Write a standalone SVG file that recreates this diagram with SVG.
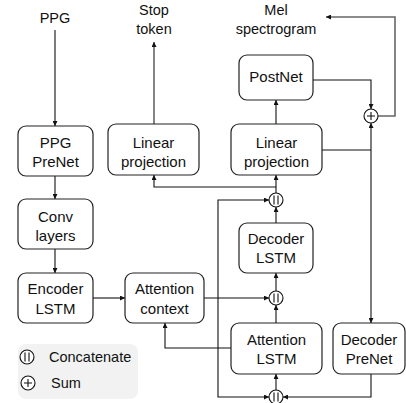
<svg xmlns="http://www.w3.org/2000/svg" width="406" height="403" viewBox="0 0 406 403">
<defs>
<style>
.box{fill:#fff;stroke:#222;stroke-width:1.2}
.t{font-family:"Liberation Sans",Arial,sans-serif;font-size:14.5px;fill:#111;text-anchor:middle}
.b{font-size:15px}
.tl{font-family:"Liberation Sans",Arial,sans-serif;font-size:14.5px;fill:#111}
.c{fill:none;stroke:#111;stroke-width:1.1}
.g{fill:none;stroke:#666;stroke-width:1.6}
.sym{fill:#fff;stroke:#111;stroke-width:1.1}
</style>
<marker id="a" viewBox="0 0 6 6" refX="6" refY="3" markerWidth="5" markerHeight="5" orient="auto" markerUnits="userSpaceOnUse">
<path d="M0,0 L6,3 L0,6 z" fill="#111"/>
</marker>
<g id="cat"><circle r="7" class="sym"/><path d="M-2,-4.5 V4.5 M2,-4.5 V4.5" stroke="#111" stroke-width="1.1"/></g>
<g id="sum"><circle r="7" class="sym"/><path d="M-4,0 H4 M0,-4 V4" stroke="#111" stroke-width="1.1"/></g>
</defs>
<rect width="406" height="403" fill="#fff"/>

<g id="connectors">
<path class="c" d="M55,30 V126" marker-end="url(#a)"/>
<path class="c" d="M55,176 V199" marker-end="url(#a)"/>
<path class="c" d="M55,249 V273" marker-end="url(#a)"/>
<path class="c" d="M93,298 H125" marker-end="url(#a)"/>
<path class="c" d="M204,298 H269" marker-end="url(#a)"/>
<path class="c" d="M218,298 V200 H269" marker-end="url(#a)"/>
<path class="c" d="M218,298 V397 H269" marker-end="url(#a)"/>
<path class="c" d="M231,348 H165 V323" marker-end="url(#a)"/>
<path class="c" d="M276,323 V305" marker-end="url(#a)"/>
<path class="c" d="M276,291 V273" marker-end="url(#a)"/>
<path class="c" d="M276,223 V207" marker-end="url(#a)"/>
<path class="c" d="M276,193 V175" marker-end="url(#a)"/>
<path class="c" d="M276,187 H154 V175" marker-end="url(#a)"/>
<path class="g" d="M154,125 V42" marker-end="url(#a)"/>
<path class="c" d="M276,124 V100" marker-end="url(#a)"/>
<path class="c" d="M313,80 H371 V109" marker-end="url(#a)"/>
<path class="c" d="M322,150 H371" stroke-width="1.6"/>
<path class="c" d="M371,150 V123" marker-end="url(#a)"/>
<path class="c" d="M371,150 V323" marker-end="url(#a)"/>
<path class="g" d="M378,116 H395 V17 H326" marker-end="url(#a)"/>
<path class="c" d="M371,374 V397 H283" marker-end="url(#a)"/>
<path class="c" d="M276,390 V374" marker-end="url(#a)"/>
</g>

<g id="labels">
<text class="t" x="55" y="23">PPG</text>
<text class="t" x="154" y="15">Stop</text>
<text class="t" x="154" y="34">token</text>
<text class="t" x="276" y="15">Mel</text>
<text class="t" x="276" y="34">spectrogram</text>
</g>

<g id="postnet"><rect class="box" x="239" y="55" width="74" height="45" rx="8"/><text class="t b" x="276" y="82">PostNet</text></g>
<g id="ppg-prenet"><rect class="box" x="18" y="126" width="75" height="50" rx="8"/><text class="t b" x="55.5" y="148">PPG</text><text class="t b" x="55.5" y="167">PreNet</text></g>
<g id="linear-stop"><rect class="box" x="108" y="124" width="91" height="51" rx="8"/><text class="t b" x="153.5" y="148">Linear</text><text class="t b" x="153.5" y="167">projection</text></g>
<g id="linear-mel"><rect class="box" x="231" y="124" width="91" height="51" rx="8"/><text class="t b" x="276.5" y="148">Linear</text><text class="t b" x="276.5" y="167">projection</text></g>
<g id="conv"><rect class="box" x="18" y="199" width="75" height="50" rx="8"/><text class="t b" x="55.5" y="222">Conv</text><text class="t b" x="55.5" y="241">layers</text></g>
<g id="decoder-lstm"><rect class="box" x="239" y="223" width="74" height="50" rx="8"/><text class="t b" x="276" y="244">Decoder</text><text class="t b" x="276" y="263">LSTM</text></g>
<g id="encoder-lstm"><rect class="box" x="18" y="273" width="75" height="50" rx="8"/><text class="t b" x="55.5" y="294">Encoder</text><text class="t b" x="55.5" y="314">LSTM</text></g>
<g id="attention-context"><rect class="box" x="125" y="273" width="79" height="50" rx="8"/><text class="t b" x="164.5" y="294">Attention</text><text class="t b" x="164.5" y="314">context</text></g>
<g id="attention-lstm"><rect class="box" x="231" y="323" width="91" height="51" rx="8"/><text class="t b" x="276.5" y="345">Attention</text><text class="t b" x="276.5" y="364">LSTM</text></g>
<g id="decoder-prenet"><rect class="box" x="333" y="323" width="72" height="51" rx="8"/><text class="t b" x="369" y="345">Decoder</text><text class="t b" x="369" y="364">PreNet</text></g>

<g id="concat-top"><use href="#cat" x="276" y="200"/></g>
<g id="concat-mid"><use href="#cat" x="276" y="298"/></g>
<g id="concat-bot"><use href="#cat" x="276" y="397"/></g>
<g id="sum-node"><use href="#sum" x="371" y="116"/></g>

<g id="legend">
<rect x="18" y="344" width="120" height="55" rx="8" fill="#f2f2f2"/>
<use href="#cat" x="27" y="357"/>
<text class="tl" x="49" y="362">Concatenate</text>
<use href="#sum" x="28" y="383"/>
<text class="tl" x="51" y="388">Sum</text>
</g>
</svg>
